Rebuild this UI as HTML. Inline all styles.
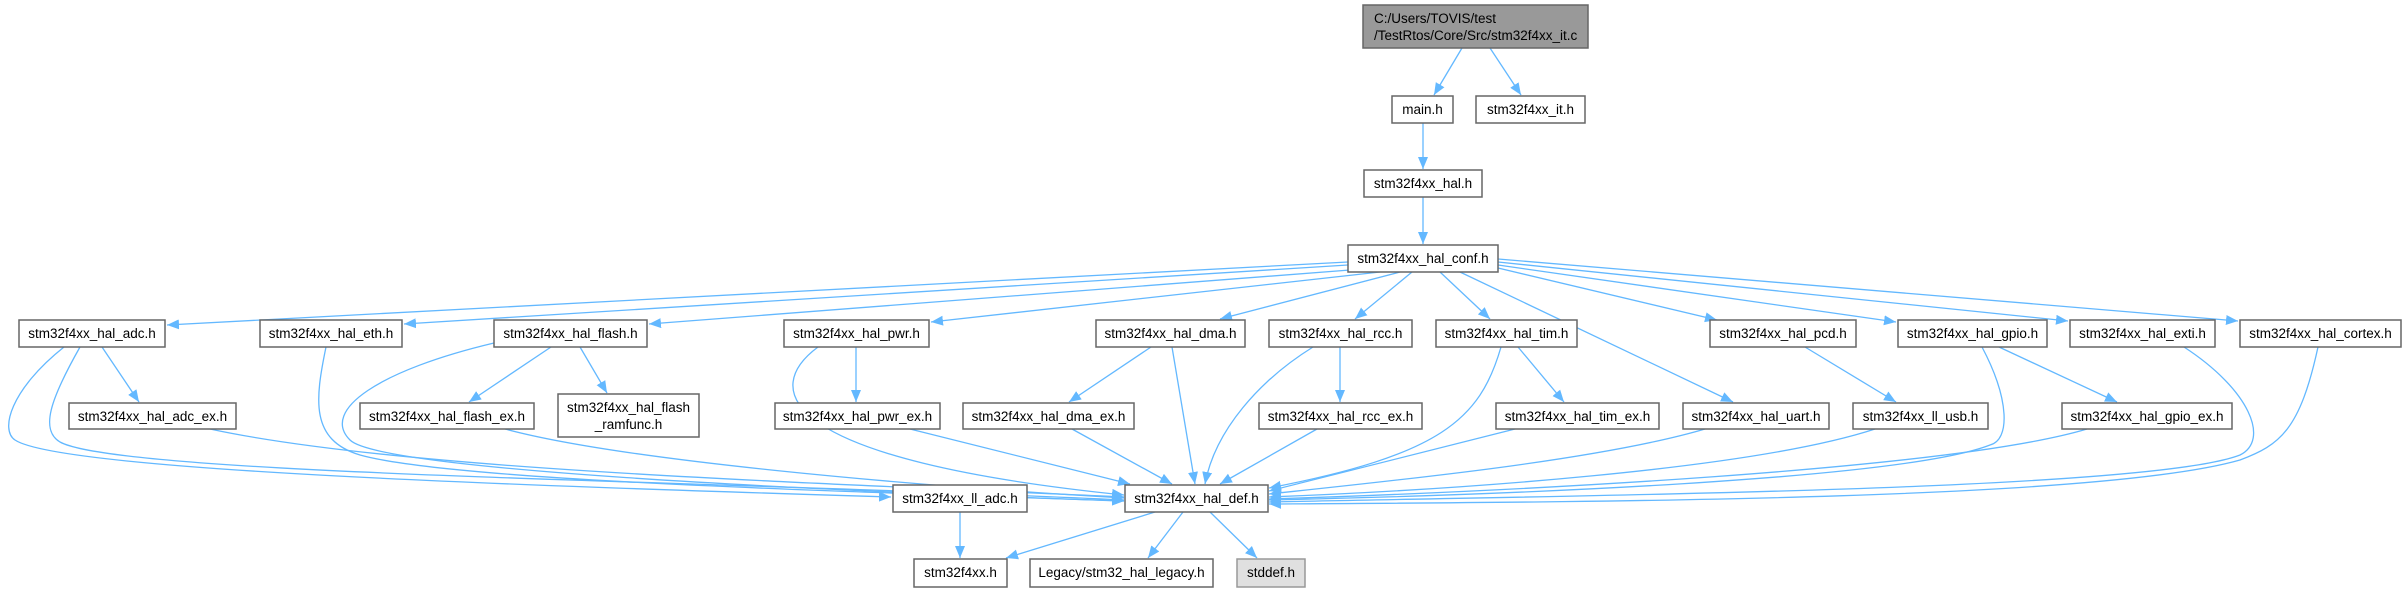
<!DOCTYPE html>
<html><head><meta charset="utf-8"><style>
html,body{margin:0;padding:0;background:#fff;}
svg{display:block;}
text{font-family:"Liberation Sans",sans-serif;font-size:13.5px;fill:#000;}
.n{fill:#fff;stroke:#666;stroke-width:1.5;}
.e{fill:none;stroke:#63b8ff;stroke-width:1.3;}
</style></head><body>
<svg width="2406" height="592" viewBox="0 0 2406 592" xmlns="http://www.w3.org/2000/svg">
<defs>
<marker id="a" markerUnits="userSpaceOnUse" markerWidth="14" markerHeight="12" refX="12" refY="5" orient="auto">
<path d="M0,0 L12,5 L0,10 z" fill="#63b8ff"/>
</marker>
</defs>
<g marker-end="url(#a)">
<path class="e" d="M1462 48 L1434 95"/>
<path class="e" d="M1490 48 L1521 95"/>
<path class="e" d="M1423 123 L1423 169"/>
<path class="e" d="M1423 197 L1423 244"/>
<path class="e" d="M1348 262 L167 325"/>
<path class="e" d="M1348 265 L404 324"/>
<path class="e" d="M1350 270 L649 324"/>
<path class="e" d="M1380 272 L931 322"/>
<path class="e" d="M1400 272 L1220 319"/>
<path class="e" d="M1412 272 L1355 319"/>
<path class="e" d="M1440 272 L1490 319"/>
<path class="e" d="M1460 272 L1733 402"/>
<path class="e" d="M1498 268 L1717 320"/>
<path class="e" d="M1498 265 L1896 322"/>
<path class="e" d="M1498 262 L2068 321"/>
<path class="e" d="M1498 259 L2238 321"/>
<path class="e" d="M102 347 L139 402"/>
<path class="e" d="M551 347 L469 402"/>
<path class="e" d="M580 347 L607 393"/>
<path class="e" d="M856 347 L856 402"/>
<path class="e" d="M1151 347 L1069 402"/>
<path class="e" d="M1340 347 L1340 402"/>
<path class="e" d="M1518 347 L1564 402"/>
<path class="e" d="M1805 347 L1896 402"/>
<path class="e" d="M1999 347 L2117 402"/>
<path class="e" d="M64 347 C10 390, 0 430, 15 440 C60 470, 500 485, 891 497"/>
<path class="e" d="M80 347 C50 400, 40 430, 60 442 C120 475, 700 480, 1124 500"/>
<path class="e" d="M210 429 C400 470, 800 482, 1124 497"/>
<path class="e" d="M326 347 C315 400, 310 440, 360 455 C450 480, 800 490, 1124 501"/>
<path class="e" d="M494 343 C380 370, 320 410, 350 440 C380 470, 800 490, 1124 501"/>
<path class="e" d="M505 429 C620 460, 900 485, 1124 498"/>
<path class="e" d="M818 347 C760 390, 780 460, 1124 495"/>
<path class="e" d="M910 429 L1130 484"/>
<path class="e" d="M1072 429 L1172 484"/>
<path class="e" d="M1172 347 L1195 484"/>
<path class="e" d="M1313 347 C1260 380, 1215 430, 1205 484"/>
<path class="e" d="M1317 429 L1220 484"/>
<path class="e" d="M1501 347 C1480 420, 1440 455, 1269 488"/>
<path class="e" d="M1515 429 L1269 491"/>
<path class="e" d="M1705 429 C1600 460, 1400 480, 1269 494"/>
<path class="e" d="M1875 429 C1750 470, 1450 490, 1269 497"/>
<path class="e" d="M1982 347 C2010 400, 2010 440, 1990 445 C1900 480, 1500 495, 1269 500"/>
<path class="e" d="M2087 429 C1950 470, 1500 492, 1269 499"/>
<path class="e" d="M2184 347 C2250 390, 2270 440, 2240 455 C2150 490, 1600 495, 1269 502"/>
<path class="e" d="M2318 347 C2300 430, 2280 445, 2240 460 C2100 500, 1600 502, 1269 504"/>
<path class="e" d="M960 512 L960 558"/>
<path class="e" d="M1155 512 L1006 558"/>
<path class="e" d="M1183 512 L1148 558"/>
<path class="e" d="M1210 512 L1257 558"/>
</g>
<rect x="1363" y="5" width="225" height="43" fill="#999" stroke="#666" stroke-width="1.5"/>
<text x="1374" y="23">C:/Users/TOVIS/test</text>
<text x="1374" y="40">/TestRtos/Core/Src/stm32f4xx_it.c</text>
<g text-anchor="middle">
<rect class="n" x="1392" y="96" width="61" height="27"/><text x="1422.5" y="114">main.h</text>
<rect class="n" x="1476" y="96" width="109" height="27"/><text x="1530.5" y="114">stm32f4xx_it.h</text>
<rect class="n" x="1364" y="170" width="118" height="27"/><text x="1423" y="188">stm32f4xx_hal.h</text>
<rect class="n" x="1348" y="245" width="150" height="27"/><text x="1423" y="263">stm32f4xx_hal_conf.h</text>

<rect class="n" x="19" y="320" width="146" height="27"/><text x="92" y="338">stm32f4xx_hal_adc.h</text>
<rect class="n" x="260" y="320" width="142" height="27"/><text x="331" y="338">stm32f4xx_hal_eth.h</text>
<rect class="n" x="494" y="320" width="153" height="27"/><text x="570.5" y="338">stm32f4xx_hal_flash.h</text>
<rect class="n" x="784" y="320" width="145" height="27"/><text x="856.5" y="338">stm32f4xx_hal_pwr.h</text>
<rect class="n" x="1096" y="320" width="149" height="27"/><text x="1170.5" y="338">stm32f4xx_hal_dma.h</text>
<rect class="n" x="1269" y="320" width="143" height="27"/><text x="1340.5" y="338">stm32f4xx_hal_rcc.h</text>
<rect class="n" x="1436" y="320" width="141" height="27"/><text x="1506.5" y="338">stm32f4xx_hal_tim.h</text>
<rect class="n" x="1710" y="320" width="146" height="27"/><text x="1783" y="338">stm32f4xx_hal_pcd.h</text>
<rect class="n" x="1898" y="320" width="149" height="27"/><text x="1972.5" y="338">stm32f4xx_hal_gpio.h</text>
<rect class="n" x="2070" y="320" width="145" height="27"/><text x="2142.5" y="338">stm32f4xx_hal_exti.h</text>
<rect class="n" x="2240" y="320" width="161" height="27"/><text x="2320.5" y="338">stm32f4xx_hal_cortex.h</text>

<rect class="n" x="69" y="403" width="167" height="26"/><text x="152.5" y="421">stm32f4xx_hal_adc_ex.h</text>
<rect class="n" x="360" y="403" width="174" height="26"/><text x="447" y="421">stm32f4xx_hal_flash_ex.h</text>
<rect class="n" x="558" y="394" width="141" height="43"/><text x="628.5" y="412">stm32f4xx_hal_flash</text><text x="628.5" y="429">_ramfunc.h</text>
<rect class="n" x="775" y="403" width="165" height="26"/><text x="857.5" y="421">stm32f4xx_hal_pwr_ex.h</text>
<rect class="n" x="963" y="403" width="171" height="26"/><text x="1048.5" y="421">stm32f4xx_hal_dma_ex.h</text>
<rect class="n" x="1259" y="403" width="163" height="26"/><text x="1340.5" y="421">stm32f4xx_hal_rcc_ex.h</text>
<rect class="n" x="1496" y="403" width="163" height="26"/><text x="1577.5" y="421">stm32f4xx_hal_tim_ex.h</text>
<rect class="n" x="1683" y="403" width="146" height="26"/><text x="1756" y="421">stm32f4xx_hal_uart.h</text>
<rect class="n" x="1853" y="403" width="135" height="26"/><text x="1920.5" y="421">stm32f4xx_ll_usb.h</text>
<rect class="n" x="2062" y="403" width="170" height="26"/><text x="2147" y="421">stm32f4xx_hal_gpio_ex.h</text>

<rect class="n" x="893" y="485" width="134" height="27"/><text x="960" y="503">stm32f4xx_ll_adc.h</text>
<rect class="n" x="1125" y="485" width="143" height="27"/><text x="1196.5" y="503">stm32f4xx_hal_def.h</text>

<rect class="n" x="914" y="559" width="93" height="28"/><text x="960.5" y="577">stm32f4xx.h</text>
<rect class="n" x="1030" y="559" width="183" height="28"/><text x="1121.5" y="577">Legacy/stm32_hal_legacy.h</text>
<rect x="1237" y="559" width="68" height="28" fill="#e0e0e0" stroke="#999" stroke-width="1.5"/><text x="1271" y="577">stddef.h</text>
</g>
</svg>
</body></html>
